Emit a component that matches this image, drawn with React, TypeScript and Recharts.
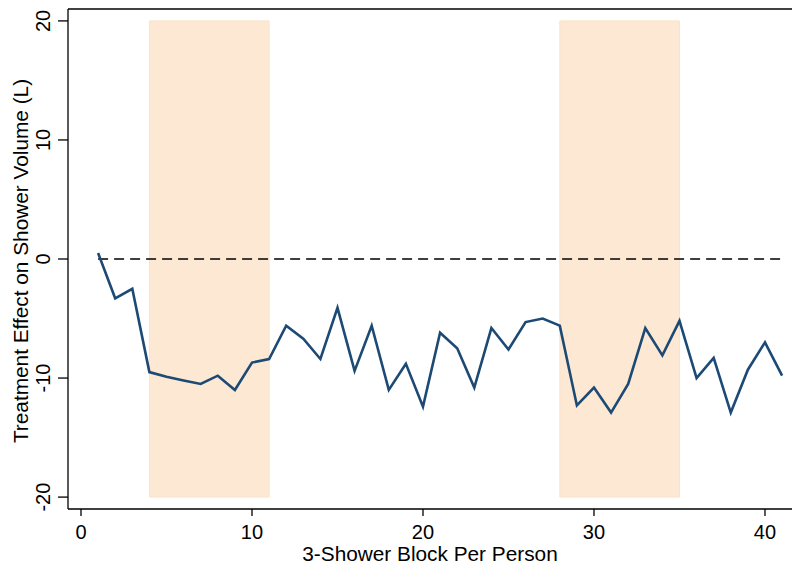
import React from 'react';
import {
  ComposedChart,
  Line,
  XAxis,
  YAxis,
  ReferenceArea,
  ReferenceLine,
} from 'recharts';

// 3-shower blocks per person
const blocks = [
  1, 2, 3, 4, 5, 6, 7, 8, 9, 10,
  11, 12, 13, 14, 15, 16, 17, 18, 19, 20,
  21, 22, 23, 24, 25, 26, 27, 28, 29, 30,
  31, 32, 33, 34, 35, 36, 37, 38, 39, 40, 41,
];

// treatment effect on shower volume (L)
const effects = [
  0.5, -3.3, -2.5, -9.5, -9.9, -10.2, -10.5, -9.8, -11.0, -8.7,
  -8.4, -5.6, -6.7, -8.4, -4.1, -9.4, -5.6, -11.0, -8.8, -12.4,
  -6.2, -7.5, -10.8, -5.8, -7.6, -5.3, -5.0, -5.6, -12.3, -10.8,
  -12.9, -10.5, -5.8, -8.1, -5.2, -10.0, -8.3, -12.9, -9.3, -7.0, -9.8,
];

// shaded periods [start, end]
const shadedPeriods: [number, number][] = [
  [4, 11],
  [28, 35],
];

const xTicks = [0, 10, 20, 30, 40];
const yTicks = [-20, -10, 0, 10, 20];

const FONT = '"Liberation Sans", Arial, Helvetica, sans-serif';
const TITLE_SIZE = 20.8;

const data = blocks.map((b, i) => ({ block: b, effect: effects[i] }));

const XTick = (props: any) => {
  const { x, payload } = props;
  return (
    <text x={x} y={539} textAnchor="middle" fontSize={20} fontFamily={FONT} fill="#000">
      {payload.value}
    </text>
  );
};

const YTick = (props: any) => {
  const { y, payload } = props;
  return (
    <text
      x={50}
      y={y}
      transform={`rotate(-90, 50, ${y})`}
      textAnchor="middle"
      fontSize={20}
      fontFamily={FONT}
      fill="#000"
    >
      {payload.value}
    </text>
  );
};

export default function App() {
  return (
    <div style={{ position: 'absolute', left: 0, top: 0, width: 792, height: 564, background: '#fff' }}>
      <ComposedChart
        width={792}
        height={564}
        data={data}
        margin={{ top: 9, right: 0, bottom: 0, left: 0 }}
      >
        <XAxis
          dataKey="block"
          type="number"
          domain={[-0.76, 41.58]}
          ticks={xTicks}
          allowDataOverflow
          height={55}
          tickSize={7}
          stroke="#000"
          strokeWidth={1.3}
          tick={<XTick />}
          label={{
            value: '3-Shower Block Per Person',
            position: 'insideBottom',
            offset: 3,
            fontSize: TITLE_SIZE,
            fontFamily: FONT,
            fill: '#000',
          }}
        />
        <YAxis
          type="number"
          domain={[-21, 21]}
          ticks={yTicks}
          allowDataOverflow
          width={68}
          tickSize={10}
          stroke="#000"
          strokeWidth={1.3}
          tick={<YTick />}
          label={{
            value: 'Treatment Effect on Shower Volume (L)',
            content: (p: any) => {
              const cy = p.viewBox.y + p.viewBox.height / 2 + 2;
              return (
                <text
                  x={28}
                  y={cy}
                  transform={`rotate(-90, 28, ${cy})`}
                  textAnchor="middle"
                  fontSize={TITLE_SIZE}
                  fontFamily={FONT}
                  fill="#000"
                >
                  Treatment Effect on Shower Volume (L)
                </text>
              );
            },
          }}
        />
        {shadedPeriods.map(([a, b]) => (
          <ReferenceArea
            key={a}
            x1={a}
            x2={b}
            y1={-20}
            y2={20}
            fill="#fde8d4"
            fillOpacity={1}
            stroke="#fce2c8"
            strokeWidth={1}
          />
        ))}
        <ReferenceLine y={21} stroke="#000" strokeWidth={1.3} />
        <ReferenceLine
          segment={[{ x: 1, y: 0 }, { x: 41, y: 0 }]}
          stroke="#000"
          strokeWidth={1.6}
          strokeDasharray="10 6"
        />
        <Line
          dataKey="effect"
          type="linear"
          stroke="#1c4a74"
          strokeWidth={2.6}
          dot={false}
          isAnimationActive={false}
        />
      </ComposedChart>
    </div>
  );
}
